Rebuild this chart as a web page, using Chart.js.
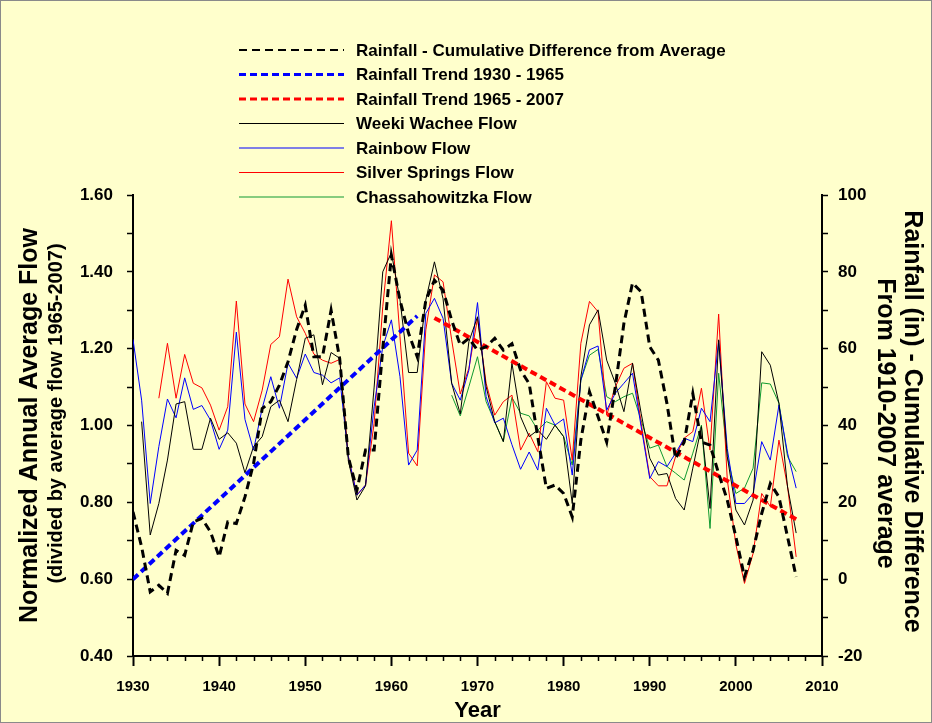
<!DOCTYPE html>
<html lang="en">
<head>
<meta charset="UTF-8">
<title>Spring Flow and Rainfall</title>
<script src="https://cdn.jsdelivr.net/npm/chart.js@4.4.2/dist/chart.umd.min.js"></script>
<style>
  body { margin: 0; background: #ffffcc; }
  canvas { display: block; }
</style>
</head>
<body>
<canvas id="flowchart" width="932" height="723"></canvas>
<script>
// one value per year, 1930 - 2007 (null = no record that year)
var years = [];
for (var yr = 1930; yr <= 2007; yr++) years.push(yr);

// rainfall, cumulative difference from the 1910-2007 average (inches)
var rainCum = [
  17.5, 8.4, -3.3, -1.6, -3.7, 7.5, 6.2, 14.9, 15.8, 12.3,
  5.8, 14.9, 14.5, 21.4, 30.1, 44.4, 46.2, 50.5, 56.6, 65.0,
  71.3, 57.9, 57.9, 70.0, 57.4, 31.8, 23.2, 33.6, 33.6, 60.0,
  84.3, 72.6, 64.0, 57.9, 72.6, 77.8, 75.2, 67.4, 60.9, 62.7,
  59.6, 60.5, 62.7, 59.6, 61.3, 54.4, 50.9, 37.0, 23.6, 24.5,
  22.3, 16.2, 36.2, 48.8, 42.3, 35.7, 50.0, 66.6, 77.1, 74.8,
  60.5, 57.0, 45.7, 31.4, 35.7, 48.3, 35.7, 34.9, 27.5, 20.6,
  11.0, 0.6, 7.5, 17.1, 24.9, 21.4, 11.0, 0.6
];

// rainfall trend lines (end points)
var trendEarlyYears = [1930, 1963];
var trendEarlyVals = [0, 68.5];
var trendLateYears = [1965, 2007];
var trendLateVals = [68, 15.6];

// normalized annual flows (divided by average flow 1965-2007)
var weekiWachee = [
  null, 1.01, 0.715, 0.797, 0.91, 1.056, 1.062, 0.938, 0.938, 1.019,
  0.964, 0.981, 0.954, 0.877, 0.945, 0.971, 1.049, 1.066, 1.01, 1.12,
  1.227, 1.236, 1.106, 1.19, 1.175, 0.91, 0.806, 0.843, 1.10, 1.40,
  1.45, 1.327, 1.138, 1.138, 1.327, 1.426, 1.33, 1.11, 1.03, 1.218,
  1.283, 1.101, 1.01, 0.958, 1.162, 1.023, 0.971, 0.988, 0.964, 1.001,
  0.971, 0.797, 1.127, 1.262, 1.301, 1.17, 1.11, 1.036, 1.162, 1.032,
  0.915, 0.871, 0.875, 0.81, 0.78, 0.889, 0.997, 0.784, 1.223, 0.919,
  0.78, 0.741, 0.806, 1.192, 1.157, 1.058, 0.84, 0.72
];
var rainbow = [
  1.224, 1.066, 0.797, 0.945, 1.069, 1.02, 1.124, 1.042, 1.052, 1.014,
  0.938, 0.988, 1.243, 1.016, 0.936, 1.045, 1.127, 1.045, 1.162, 1.123,
  1.186, 1.138, 1.131, 1.111, 1.124, 0.919, 0.819, 0.845, 1.049, 1.205,
  1.275, 1.127, 0.897, 0.936, 1.292, 1.331, 1.279, 1.11, 1.066, 1.144,
  1.32, 1.075, 1.007, 1.019, 0.95, 0.886, 0.931, 0.884, 1.045, 1.001,
  1.017, 0.871, 1.118, 1.197, 1.207, 1.04, 1.084, 1.11, 1.136, 0.997,
  0.862, 0.906, 0.893, 0.928, 0.967, 0.958, 1.045, 1.01, 1.22, 0.94,
  0.797, 0.797, 0.823, 0.958, 0.91, 1.053, 0.928, 0.837
];
var silverSprings = [
  null, null, null, 1.071, 1.214, 1.071, 1.185, 1.11, 1.098, 1.053,
  0.988, 1.049, 1.324, 1.056, 1.01, 1.092, 1.211, 1.231, 1.381, 1.283,
  1.24, 1.186, 1.17, 1.162, 1.172, 0.92, 0.819, 0.845, 1.006, 1.309,
  1.533, 1.231, 0.928, 0.895, 1.249, 1.392, 1.374, 1.223, 1.082, 1.149,
  1.279, 1.11, 1.027, 1.062, 1.079, 0.936, 0.98, 0.932, 1.114, 1.071,
  1.066, 0.91, 1.214, 1.323, 1.296, 1.027, 1.10, 1.149, 1.162, 1.006,
  0.867, 0.843, 0.843, 0.919, 0.967, 0.984, 1.097, 0.936, 1.29, 0.86,
  0.69, 0.589, 0.667, 0.823, 0.789, 0.962, 0.841, 0.658
];
var chassahowitzka = [
  null, null, null, null, null, null, null, null, null, null,
  null, null, null, null, null, null, null, null, null, null,
  null, null, null, null, null, null, null, null, null, null,
  null, null, null, null, null, null, null, 1.079, 1.025, 1.101,
  1.179, 1.062, 1.01, 0.958, 1.073, 1.032, 1.025, 0.988, 1.01, 1.001,
  0.971, 0.897, 1.118, 1.183, 1.198, 1.075, 1.062, 1.075, 1.084, 1.014,
  0.941, 0.949, 0.893, 0.876, 0.858, 0.928, 1.001, 0.732, 1.136, 0.92,
  0.823, 0.837, 0.889, 1.111, 1.108, 1.058, 0.919, 0.88
];

const FONT = "'Liberation Sans', Arial, sans-serif";
const BG = '#ffffcc';

function pairs(xs, vals) {
  return xs.map((x, i) => ({ x: x, y: vals[i] })).filter(p => p.y !== null);
}

// page background and frame
const backdrop = {
  id: 'backdrop',
  beforeDraw(chart) {
    const ctx = chart.ctx;
    ctx.save();
    ctx.fillStyle = BG;
    ctx.fillRect(0, 0, chart.width, chart.height);
    ctx.strokeStyle = '#8a8a8a';
    ctx.lineWidth = 1;
    ctx.strokeRect(0.5, 0.5, chart.width - 1, chart.height - 1);
    ctx.restore();
  }
};

// short ticks for every second year
const minorTicks = {
  id: 'minorTicks',
  afterDraw(chart) {
    const ctx = chart.ctx, xs = chart.scales.x;
    const y0 = chart.chartArea.bottom;
    ctx.save();
    ctx.strokeStyle = '#000';
    ctx.lineWidth = 1.5;
    for (let v = 1930; v <= 2010; v += 2) {
      if (v % 10 === 0) continue;
      const px = Math.round(xs.getPixelForValue(v)) + 0.5;
      ctx.beginPath();
      ctx.moveTo(px, y0);
      ctx.lineTo(px, y0 + 5);
      ctx.stroke();
    }
    ctx.restore();
  }
};

// axis titles
const axisTitles = {
  id: 'axisTitles',
  afterDraw(chart) {
    const ctx = chart.ctx;
    const mid = (chart.chartArea.top + chart.chartArea.bottom) / 2;
    ctx.save();
    ctx.fillStyle = '#000';
    ctx.textAlign = 'center';
    ctx.textBaseline = 'middle';

    ctx.save();
    ctx.translate(30, mid);
    ctx.rotate(-Math.PI / 2);
    ctx.font = 'bold 25px ' + FONT;
    ctx.fillText('Normalized Annual Average Flow', 0, 0);
    ctx.restore();

    ctx.save();
    ctx.translate(56, mid - 12);
    ctx.rotate(-Math.PI / 2);
    ctx.font = 'bold 20px ' + FONT;
    ctx.fillText('(divided by average flow 1965-2007)', 0, 0);
    ctx.restore();

    ctx.save();
    ctx.translate(912, mid - 4);
    ctx.rotate(Math.PI / 2);
    ctx.font = 'bold 25px ' + FONT;
    ctx.fillText('Rainfall (in) - Cumulative Difference', 0, 0);
    ctx.restore();

    ctx.save();
    ctx.translate(885, mid - 2);
    ctx.rotate(Math.PI / 2);
    ctx.font = 'bold 25px ' + FONT;
    ctx.fillText('From 1910-2007 average', 0, 0);
    ctx.restore();

    ctx.font = 'bold 22px ' + FONT;
    ctx.fillText('Year', (chart.chartArea.left + chart.chartArea.right) / 2, 711);
    ctx.restore();
  }
};

// stacked legend above the plot
const legendBox = {
  id: 'legendBox',
  afterDraw(chart) {
    const ctx = chart.ctx;
    ctx.save();
    chart.data.datasets.forEach((ds, i) => {
      const y = 50 + i * 24.5;
      ctx.beginPath();
      ctx.setLineDash(ds.borderDash || []);
      ctx.lineWidth = ds.borderDash ? ds.borderWidth - 1 : 1.2;
      ctx.strokeStyle = ds.borderColor;
      ctx.moveTo(239, y);
      ctx.lineTo(344, y);
      ctx.stroke();
      ctx.setLineDash([]);
      ctx.fillStyle = '#000';
      ctx.font = 'bold 17px ' + FONT;
      ctx.textBaseline = 'middle';
      ctx.fillText(ds.label, 356, y + 1);
    });
    ctx.restore();
  }
};

const ctx = document.getElementById('flowchart');

new Chart(ctx, {
  type: 'line',
  data: {
    datasets: [{
      label: 'Rainfall - Cumulative Difference from Average',
      data: pairs(years, rainCum),
      yAxisID: 'yR',
      borderColor: '#000000',
      borderWidth: 3,
      borderDash: [8, 5]
    }, {
      label: 'Rainfall Trend 1930 - 1965',
      data: pairs(trendEarlyYears, trendEarlyVals),
      yAxisID: 'yR',
      borderColor: '#0000ff',
      borderWidth: 4,
      borderDash: [7, 4]
    }, {
      label: 'Rainfall Trend 1965 - 2007',
      data: pairs(trendLateYears, trendLateVals),
      yAxisID: 'yR',
      borderColor: '#ff0000',
      borderWidth: 4,
      borderDash: [7, 4]
    }, {
      label: 'Weeki Wachee Flow',
      data: pairs(years, weekiWachee),
      yAxisID: 'yL',
      borderColor: '#000000',
      borderWidth: 1
    }, {
      label: 'Rainbow Flow',
      data: pairs(years, rainbow),
      yAxisID: 'yL',
      borderColor: '#0000ff',
      borderWidth: 1
    }, {
      label: 'Silver Springs Flow',
      data: pairs(years, silverSprings),
      yAxisID: 'yL',
      borderColor: '#ff0000',
      borderWidth: 1
    }, {
      label: 'Chassahowitzka Flow',
      data: pairs(years, chassahowitzka),
      yAxisID: 'yL',
      borderColor: '#109a30',
      borderWidth: 1
    }]
  },
  options: {
    responsive: false,
    animation: false,
    devicePixelRatio: 1,
    elements: { point: { radius: 0 }, line: { tension: 0 } },
    layout: { padding: { top: 195, left: 0, right: 0, bottom: 0 } },
    plugins: { legend: { display: false }, tooltip: { enabled: false } },
    scales: {
      x: {
        type: 'linear',
        min: 1930,
        max: 2010,
        afterFit: s => { s.height = 67; },
        border: { color: '#000', width: 2 },
        grid: {
          drawOnChartArea: false,
          tickLength: 10,
          tickWidth: 2,
          tickColor: c => (c.tick && c.tick.value % 10 === 0) ? '#000' : 'rgba(0,0,0,0)'
        },
        ticks: {
          stepSize: 2,
          maxTicksLimit: 100,
          autoSkip: false,
          maxRotation: 0,
          padding: 12,
          color: '#000',
          font: { family: FONT, size: 15, weight: 'bold' },
          callback: v => (v % 10 === 0) ? String(v) : ''
        }
      },
      yL: {
        position: 'left',
        min: 0.4,
        max: 1.6,
        afterFit: s => { s.width = 133; },
        border: { color: '#000', width: 2 },
        grid: { drawOnChartArea: false, tickLength: 6, tickWidth: 1.5, color: '#000' },
        ticks: {
          stepSize: 0.1,
          maxTicksLimit: 100,
          autoSkip: false,
          padding: 14,
          color: '#000',
          font: { family: FONT, size: 17, weight: 'bold' },
          callback: v => (Math.round(v * 10) % 2 === 0) ? Number(v).toFixed(2) : ''
        }
      },
      yR: {
        position: 'right',
        min: -20,
        max: 100,
        afterFit: s => { s.width = 110; },
        border: { color: '#000', width: 2 },
        grid: { drawOnChartArea: false, tickLength: 6, tickWidth: 1.5, color: '#000' },
        ticks: {
          stepSize: 10,
          maxTicksLimit: 100,
          autoSkip: false,
          padding: 10,
          color: '#000',
          font: { family: FONT, size: 17, weight: 'bold' },
          callback: v => (Math.round(v) % 20 === 0) ? String(v) : ''
        }
      }
    }
  },
  plugins: [backdrop, minorTicks, axisTitles, legendBox]
});
</script>
</body>
</html>
